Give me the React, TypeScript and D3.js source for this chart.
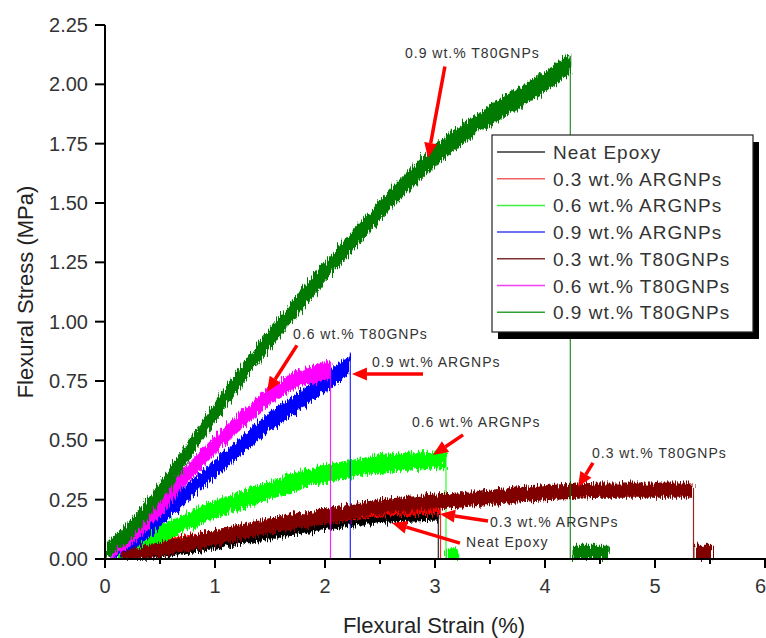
import * as d3 from 'd3'

// flexural strain (%) / stress (MPa)
const neatStrain = [0.1, 0.5, 1.0, 1.5, 2.0, 2.5, 3.03]
const neatStress = [0.0, 0.03, 0.07, 0.11, 0.15, 0.18, 0.19]

const ar03Strain = [0.1, 0.5, 1.0, 1.5, 2.0, 2.5, 3.05]
const ar03Stress = [0.01, 0.05, 0.09, 0.14, 0.18, 0.21, 0.22]

const ar06Strain = [0.1, 0.25, 0.5, 0.75, 1.0, 1.25, 1.5, 1.75, 2.0, 2.25, 2.5, 2.75, 3.0, 3.1]
const ar06Stress = [0.01, 0.04, 0.1, 0.16, 0.21, 0.25, 0.29, 0.33, 0.36, 0.38, 0.4, 0.41, 0.42, 0.42]

const ar09Strain = [0.05, 0.25, 0.5, 0.75, 1.0, 1.25, 1.5, 1.75, 2.0, 2.23]
const ar09Stress = [0.01, 0.07, 0.17, 0.28, 0.38, 0.48, 0.58, 0.66, 0.74, 0.82]

const t03Strain = [0.15, 0.5, 1.0, 1.5, 2.0, 2.5, 3.0, 3.5, 4.0, 4.5, 5.0, 5.35]
const t03Stress = [0.0, 0.04, 0.09, 0.14, 0.18, 0.22, 0.24, 0.26, 0.28, 0.29, 0.29, 0.29]

const t06Strain = [0.05, 0.25, 0.5, 0.75, 1.0, 1.25, 1.5, 1.75, 2.05]
const t06Stress = [0.02, 0.1, 0.22, 0.36, 0.48, 0.59, 0.69, 0.76, 0.8]

const t09Strain = [0, 0.25, 0.5, 0.75, 1.0, 1.25, 1.5, 1.75, 2.0, 2.25, 2.5, 2.75, 3.0, 3.25, 3.5, 3.75, 4.0, 4.23]
const t09Stress = [0.02, 0.13, 0.28, 0.45, 0.62, 0.78, 0.93, 1.07, 1.21, 1.34, 1.47, 1.59, 1.7, 1.79, 1.87, 1.94, 2.01, 2.09]

// noise half-width (MPa) of each trace
const spreads = [0.028, 0.032, 0.038, 0.038, 0.032, 0.038, 0.044]
// peak stress just before the break, where the vertical drop starts
const breakPeaks = [0.21, 0.25, 0.46, 0.87, 0.3, 0.83, 2.12]

// bits of signal left after fracture
const residueStrain = [[], [], [3.1, 3.22], [], [5.36, 5.52], [], [4.25, 4.58]]
const residueStress = [[], [], [0.015, 0.015], [], [0.03, 0.03], [], [0.03, 0.03]]

const seriesNames = [
  'Neat Epoxy',
  '0.3 wt.% ARGNPs',
  '0.6 wt.% ARGNPs',
  '0.9 wt.% ARGNPs',
  '0.3 wt.% T80GNPs',
  '0.6 wt.% T80GNPs',
  '0.9 wt.% T80GNPs',
]
const seriesColors = ['#000000', '#ff0000', '#00ff00', '#0000ff', '#800000', '#ff00ff', '#007a00']
const legendColors = ['#333333', '#f06060', '#40f040', '#4040f0', '#803030', '#f040f0', '#30a030']

const strainTicks = [0, 1, 2, 3, 4, 5, 6]
const strainMinor = [0.5, 1.5, 2.5, 3.5, 4.5, 5.5]
const stressTicks = [0, 0.25, 0.5, 0.75, 1.0, 1.25, 1.5, 1.75, 2.0, 2.25]

// callouts: label position, arrow tail, arrow tip (data units)
const calloutText = [
  '0.9 wt.% T80GNPs',
  '0.6 wt.% T80GNPs',
  '0.9 wt.% ARGNPs',
  '0.6 wt.% ARGNPs',
  '0.3 wt.% T80GNPs',
  '0.3 wt.% ARGNPs',
  'Neat Epoxy',
]
const calloutAt = [[2.727, 2.111], [1.709, 0.927], [2.427, 0.809], [2.791, 0.556], [4.427, 0.426], [3.5, 0.135], [3.282, 0.051]]
const arrowFrom = [[3.09, 2.075], [1.745, 0.9], [2.891, 0.78], [3.255, 0.523], [4.436, 0.405], [3.482, 0.16], [3.227, 0.067]]
const arrowTo = [[2.936, 1.69], [1.473, 0.704], [2.245, 0.78], [2.982, 0.438], [4.3, 0.303], [3.045, 0.19], [2.609, 0.152]]

const allStrain = [neatStrain, ar03Strain, ar06Strain, ar09Strain, t03Strain, t06Strain, t09Strain]
const allStress = [neatStress, ar03Stress, ar06Stress, ar09Stress, t03Stress, t06Stress, t09Stress]

const W = 766
const H = 638
const FONT = 'Liberation Sans, Arial, sans-serif'

export default function App() {
  const x = d3.scaleLinear().domain([0, 6]).range([105, 765])
  const y = d3.scaleLinear().domain([0, 2.25]).range([559, 25])

  const band = (spread: number) =>
    d3.area<[number, number]>()
      .x((d) => x(d[0]))
      .y0((d) => y(Math.max(0, d[1] - spread)))
      .y1((d) => y(d[1] + spread))

  const arrowHead = (from: number[], to: number[]) => {
    const x0 = x(from[0]), y0 = y(from[1]), x1 = x(to[0]), y1 = y(to[1])
    const a = Math.atan2(y1 - y0, x1 - x0)
    const len = 15, hw = 6.5
    const bx = x1 - len * Math.cos(a), by = y1 - len * Math.sin(a)
    const pts = [
      [x1, y1],
      [bx + hw * Math.sin(a), by - hw * Math.cos(a)],
      [bx - hw * Math.sin(a), by + hw * Math.cos(a)],
    ]
    return { pts: pts.map((p) => p.join(',')).join(' '), bx, by, x0, y0 }
  }

  const legX = 492, legY = 135, legW = 261, legH = 197

  return (
    <svg width={W} height={H} style={{ position: 'absolute', left: 0, top: 0, background: '#fff' }} fontFamily={FONT}>
      <defs>
        <filter id="noise" x="-5%" y="-15%" width="110%" height="130%">
          <feTurbulence type="fractalNoise" baseFrequency="0.8 0.05" numOctaves={2} seed={5} result="t" />
          <feDisplacementMap in="SourceGraphic" in2="t" scale={12} xChannelSelector="B" yChannelSelector="R" />
        </filter>
      </defs>

      {/* traces */}
      {allStrain.map((xs, i) => {
        const pts = xs.map((s, j) => [s, allStress[i][j]] as [number, number])
        const last = xs[xs.length - 1]
        const res = residueStrain[i].map((s, j) => [s, residueStress[i][j]] as [number, number])
        return (
          <g key={i}>
            <line x1={x(last)} x2={x(last)} y1={y(breakPeaks[i])} y2={y(0)} stroke={seriesColors[i]} strokeWidth={1.2} opacity={0.85} />
            <g filter="url(#noise)">
              <path d={band(spreads[i])(pts) || ''} fill={seriesColors[i]} />
              {res.length > 0 && <path d={band(0.03)(res) || ''} fill={seriesColors[i]} />}
            </g>
          </g>
        )
      })}

      {/* axes */}
      <line x1={105} x2={105} y1={y(2.25)} y2={y(0) + 1} stroke="#000" strokeWidth={2} />
      <line x1={104} x2={766} y1={y(0)} y2={y(0)} stroke="#000" strokeWidth={2} />
      {stressTicks.map((t) => (
        <g key={t}>
          <line x1={95} x2={105} y1={y(t)} y2={y(t)} stroke="#000" strokeWidth={2} />
          <text x={88} y={y(t) + 7} textAnchor="end" fontSize={20} fill="#333">{t.toFixed(2)}</text>
        </g>
      ))}
      {strainTicks.map((t) => (
        <g key={t}>
          <line x1={x(t)} x2={x(t)} y1={y(0)} y2={y(0) + 9} stroke="#000" strokeWidth={2} />
          <text x={t === 6 ? 766 : x(t)} y={593} textAnchor={t === 6 ? 'end' : 'middle'} fontSize={20} fill="#333">{t}</text>
        </g>
      ))}
      {strainMinor.map((t) => (
        <line key={t} x1={x(t)} x2={x(t)} y1={y(0)} y2={y(0) + 5} stroke="#000" strokeWidth={2} />
      ))}
      <text x={434} y={633} textAnchor="middle" fontSize={22} fill="#222">Flexural Strain (%)</text>
      <text transform="translate(33,292) rotate(-90)" textAnchor="middle" fontSize={22} fill="#222">Flexural Stress (MPa)</text>

      {/* legend */}
      <rect x={legX + 6} y={legY + 7} width={legW} height={legH} fill="#000" />
      <rect x={legX} y={legY} width={legW} height={legH} fill="#fff" stroke="#222" strokeWidth={1.2} />
      {seriesNames.map((n, i) => (
        <g key={n} transform={`translate(${legX},${legY + 17 + i * 26.7})`}>
          <line x1={5} x2={53} y1={0} y2={0} stroke={legendColors[i]} strokeWidth={1.5} />
          <text x={61} y={7} fontSize={19} letterSpacing={1} fill="#333">{n}</text>
        </g>
      ))}

      {/* callouts */}
      {calloutText.map((t, i) => {
        const h = arrowHead(arrowFrom[i], arrowTo[i])
        return (
          <g key={t + i}>
            <text x={x(calloutAt[i][0])} y={y(calloutAt[i][1])} fontSize={14} letterSpacing={1} fill="#333">{t}</text>
            <line x1={h.x0} y1={h.y0} x2={h.bx} y2={h.by} stroke="#ff0000" strokeWidth={3.5} />
            <polygon points={h.pts} fill="#ff0000" />
          </g>
        )
      })}
    </svg>
  )
}
